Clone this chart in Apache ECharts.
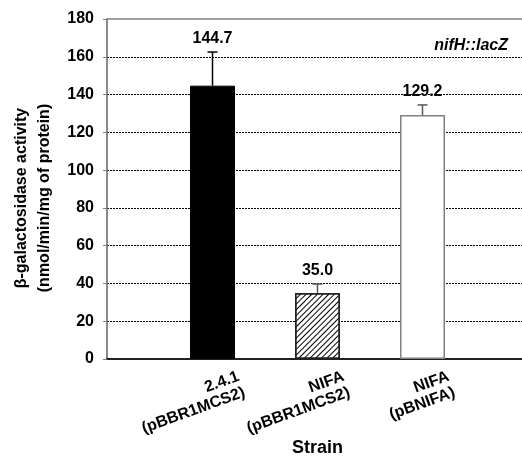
<!DOCTYPE html>
<html>
<head>
<meta charset="utf-8">
<script src="https://cdn.jsdelivr.net/npm/echarts@6/dist/echarts.min.js"></script>
<style>html,body{margin:0;padding:0;background:#fff}#c{width:522px;height:456px}</style>
</head>
<body>
<div id="c"></div>
<script>
var categories = ['2.4.1\n(pBBR1MCS2)', 'NIFA\n(pBBR1MCS2)', 'NIFA\n(pBNIFA)'];
var values = [144.7, 35.0, 129.2];
var errors = [17.8, 4.7, 5.3];
var valueLabels = ['144.7', '35.0', '129.2'];
var yTicks = [0, 20, 40, 60, 80, 100, 120, 140, 160, 180];

var FONT = 'Liberation Sans, Arial, sans-serif';
var barStyles = [
  {color: '#000', borderColor: '#000', borderWidth: 1},
  {color: '#fff', borderColor: '#222', borderWidth: 1.5,
   decal: {symbol: 'rect', dashArrayX: [1, 0], dashArrayY: [1, 3], rotation: -Math.PI / 4, color: '#000', symbolSize: 1}},
  {color: '#fff', borderColor: '#808080', borderWidth: 1.5}
];
var errColors = ['#000', '#555', '#555'];

var chart = echarts.init(document.getElementById('c'), null, {renderer: 'canvas'});
chart.setOption({
  animation: false,
  backgroundColor: '#fff',
  title: {
    text: 'nifH::lacZ', right: 9, top: 33,
    textStyle: {fontFamily: FONT, fontSize: 16, fontWeight: 'bold', fontStyle: 'italic', color: '#000'}
  },
  grid: [
    {left: 107, top: 19, right: -1, bottom: 97, show: true, borderColor: '#808080', borderWidth: 1.5, backgroundColor: 'transparent',
     containLabel: false, outerBoundsMode: 'none'},
    {left: 160, top: 19, right: 47, bottom: 97, containLabel: false, outerBoundsMode: 'none'},
    {left: 189, top: 19, right: 18, bottom: 97, containLabel: false, outerBoundsMode: 'none'}
  ],
  xAxis: [
    {gridIndex: 0, type: 'value', min: 0, max: 1, axisLabel: {show: false}, axisTick: {show: false}, splitLine: {show: false},
     axisLine: {show: true, onZero: false, lineStyle: {color: '#222', width: 2}}},
    {gridIndex: 1, type: 'category', data: categories,
     axisLine: {show: false}, axisTick: {show: false}, axisLabel: {show: false},
     name: 'Strain', nameLocation: 'middle', nameGap: 80,
     nameTextStyle: {fontFamily: FONT, fontSize: 18, fontWeight: 'bold', color: '#000'}},
    {gridIndex: 2, type: 'category', data: categories,
     axisLine: {show: false}, axisTick: {show: false},
     axisLabel: {interval: 0, rotate: 20, align: 'right', verticalAlign: 'middle', margin: 25, lineHeight: 17,
       fontFamily: FONT, fontSize: 16, fontWeight: 'bold', color: '#000'}}
  ],
  yAxis: [
    {gridIndex: 0, type: 'value', min: 0, max: 180, interval: 20,
     axisLine: {show: true, lineStyle: {color: '#808080', width: 1.5}},
     axisTick: {show: true, inside: false, length: 4, lineStyle: {color: '#808080', width: 1}},
     axisLabel: {margin: 13, fontFamily: FONT, fontSize: 16, fontWeight: 'bold', color: '#000',
       formatter: function (v) { return yTicks.indexOf(v) >= 0 ? String(v) : ''; }},
     splitLine: {show: true, showMinLine: false, showMaxLine: false, lineStyle: {type: [2, 1], color: '#000', width: 1}},
     name: 'β-galactosidase activity\n(nmol/min/mg of protein)', nameLocation: 'middle', nameRotate: 90, nameGap: 50,
     nameTextStyle: {fontFamily: FONT, fontSize: 16, fontWeight: 'bold', color: '#000', lineHeight: 23, padding: [0, 18, 0, 0]}},
    {gridIndex: 1, type: 'value', min: 0, max: 180, show: false, splitLine: {show: false}},
    {gridIndex: 2, type: 'value', min: 0, max: 180, show: false, splitLine: {show: false}}
  ],
  series: [
    {type: 'bar', xAxisIndex: 1, yAxisIndex: 1, barWidth: 45,
     data: values.map(function (v, i) { return {value: v, itemStyle: barStyles[i]}; })},
    {type: 'custom', xAxisIndex: 1, yAxisIndex: 1, z: 5,
     data: values.map(function (v, i) { return [i, v, v + errors[i]]; }),
     renderItem: function (params, api) {
       var i = api.value(0);
       var base = api.coord([i, api.value(1)]);
       var top = api.coord([i, api.value(2)]);
       var c = errColors[i];
       return {type: 'group', children: [
         {type: 'line', shape: {x1: base[0], y1: base[1], x2: top[0], y2: top[1]}, style: {stroke: c, lineWidth: 1.5}},
         {type: 'line', shape: {x1: top[0] - 5, y1: top[1], x2: top[0] + 5, y2: top[1]}, style: {stroke: c, lineWidth: 1.5}},
         {type: 'text', x: top[0], y: top[1] - 13, style: {text: valueLabels[i], textAlign: 'center', textVerticalAlign: 'middle',
           font: 'bold 16px ' + FONT, fill: '#000'}}
       ]};
     }}
  ]
});
</script>
</body>
</html>
